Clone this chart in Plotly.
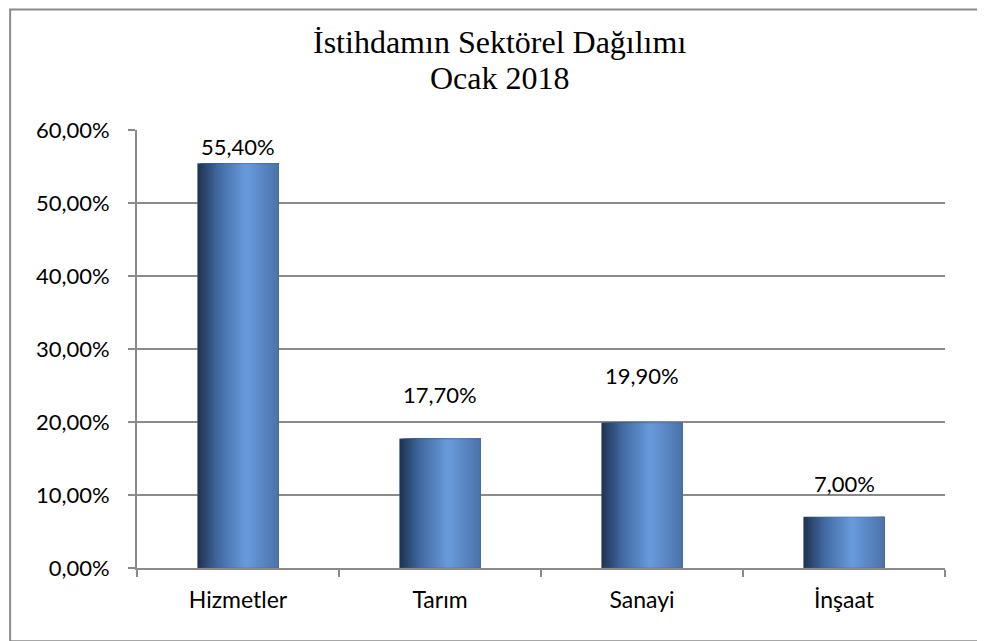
import plotly.graph_objects as go

# data
sectors = ['Hizmetler', 'Tarım', 'Sanayi', 'İnşaat']
shares = [0.554, 0.177, 0.199, 0.070]
y_ticks = [0, 0.1, 0.2, 0.3, 0.4, 0.5, 0.6]

# extra lift (px) of each value label above its bar, as in the original
label_lift = [0, 27, 30, 16]

# cylinder-ish shading: left dark -> light near 60% -> slightly darker right
stops = [(0.0, (30, 50, 80)), (0.25, (65, 105, 160)), (0.6, (105, 155, 220)), (1.0, (75, 115, 170))]


def shade(t):
    for (t0, c0), (t1, c1) in zip(stops, stops[1:]):
        if t0 <= t <= t1:
            f = (t - t0) / (t1 - t0)
            return 'rgb(%d,%d,%d)' % tuple(round(a + (b - a) * f) for a, b in zip(c0, c1))
    return 'rgb(%d,%d,%d)' % stops[-1][1]


fig = go.Figure()

bar_w = 0.4
n = 40
for i in range(n):
    # each strip runs to the right edge, next one paints over it -> no seams
    fig.add_trace(go.Bar(
        x=sectors, y=shares,
        width=bar_w - i * bar_w / n, offset=-bar_w / 2 + i * bar_w / n,
        marker=dict(color=shade((i + 0.5) / n), line_width=0),
        hoverinfo='skip', showlegend=False,
    ))

# thin outline
fig.add_trace(go.Bar(
    x=sectors, y=shares, width=bar_w,
    marker=dict(color='rgba(0,0,0,0)', line=dict(color='rgba(70,100,140,0.5)', width=1)),
    hoverinfo='skip', showlegend=False,
))

# value labels
for s, v, lift in zip(sectors, shares, label_lift):
    fig.add_annotation(x=s, y=v, text=f'{v * 100:.2f}%'.replace('.', ','),
                       showarrow=False, yanchor='bottom', yshift=2 + lift,
                       font=dict(size=22, color='black', family='Lato'))

# page body has an 8px margin, so margins are shifted to compensate
fig.update_layout(
    barmode='overlay',
    width=985, height=641,
    margin=dict(l=129, r=48, t=122, b=81),
    paper_bgcolor='white', plot_bgcolor='white',
    separators=',.',
    font=dict(family='Lato', size=22, color='black'),
    showlegend=False,
)

title_font = dict(family='Liberation Serif', size=32, color='black')
fig.add_annotation(text='İstihdamın Sektörel Dağılımı', xref='paper', yref='paper',
                   x=0.449, y=1.201, yanchor='middle', showarrow=False, font=title_font)
fig.add_annotation(text='Ocak 2018', xref='paper', yref='paper',
                   x=0.449, y=1.119, yanchor='middle', showarrow=False, font=title_font)

fig.update_yaxes(
    range=[0, 0.6], tickvals=y_ticks, tickformat='.2%',
    showgrid=True, gridcolor='#8a8a8a', gridwidth=2,
    showline=True, linecolor='#8a8a8a', linewidth=2,
    ticks='outside', ticklen=7, tickcolor='#8a8a8a', tickwidth=2,
    zeroline=False, tickfont=dict(size=22), ticklabelstandoff=14,
)
fig.update_xaxes(
    range=[-0.5, 3.5],
    showline=True, linecolor='#8a8a8a', linewidth=2,
    ticks='outside', ticklen=7, tickcolor='#8a8a8a', tickwidth=2,
    tickson='boundaries', showgrid=False, tickfont=dict(size=23), ticklabelstandoff=10,
)

# outer chart border
fig.add_shape(type='rect', xref='paper', yref='paper',
              x0=-0.157, x1=1.0458, y0=-0.167, y1=1.275,
              line=dict(color='#8a8a8a', width=2), fillcolor='rgba(0,0,0,0)')

fig.write_html('out.html')
